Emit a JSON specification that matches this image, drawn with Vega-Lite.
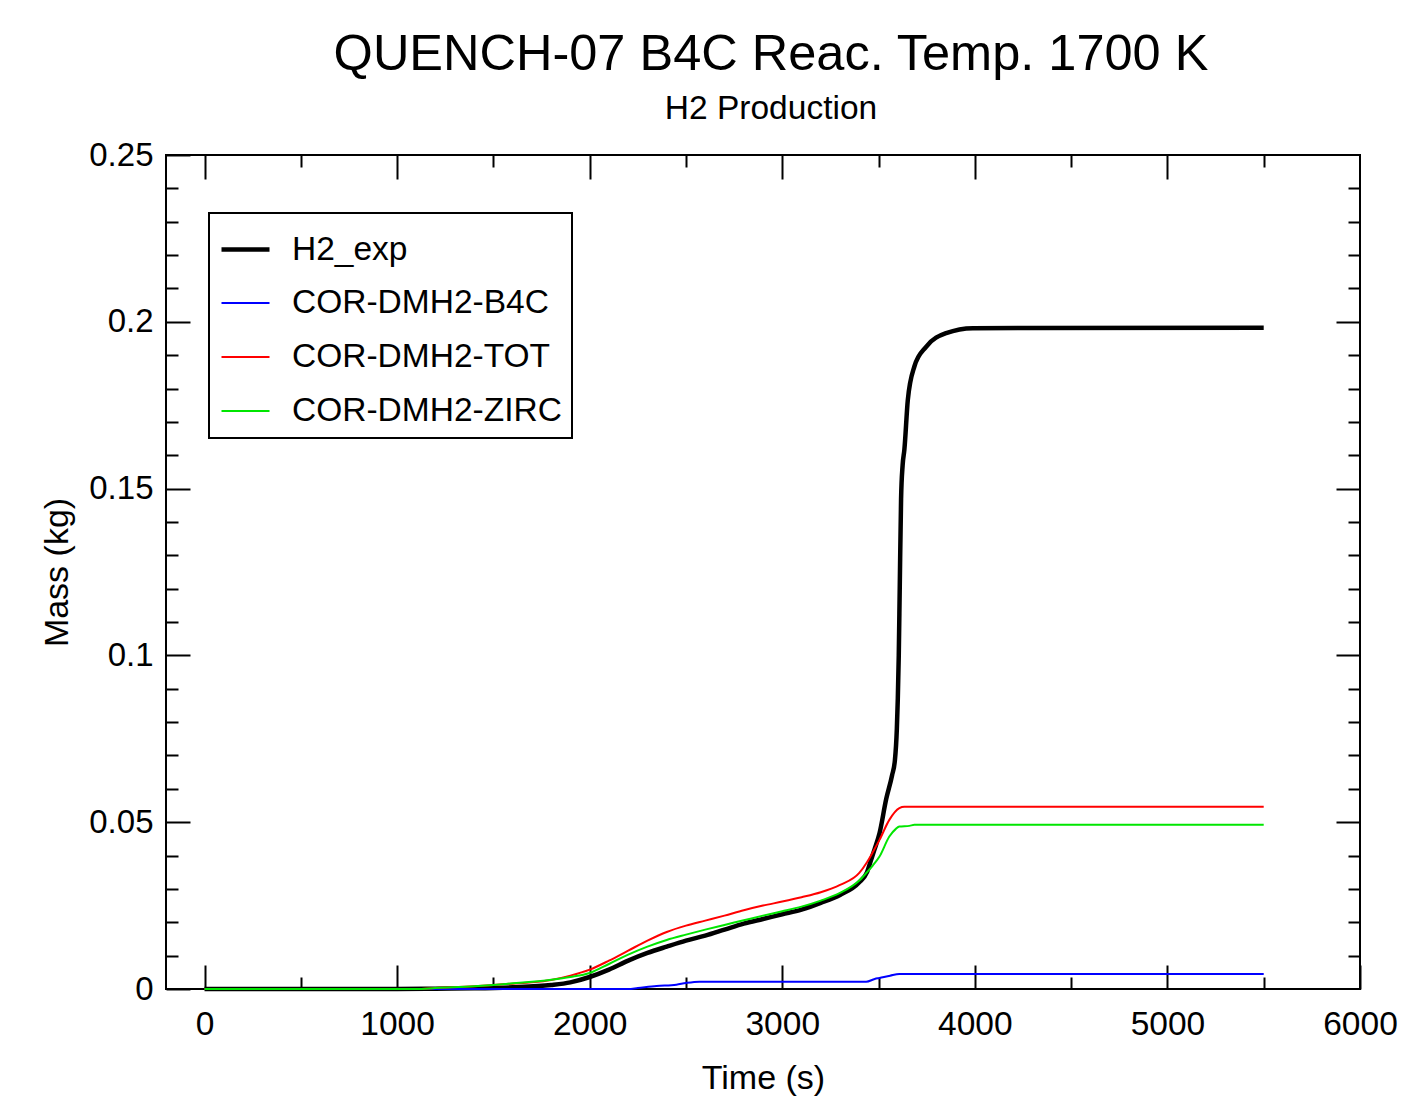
{
  "$schema": "https://vega.github.io/schema/vega-lite/v6.json",
  "autosize": {"type": "none"},
  "width": 1194,
  "height": 834,
  "padding": {"left": 166, "top": 155, "right": 44, "bottom": 130},
  "background": "white",
  "title": {
    "text": "QUENCH-07 B4C Reac. Temp. 1700 K",
    "subtitle": "H2 Production",
    "fontSize": 50.5,
    "subtitleFontSize": 33.5,
    "fontWeight": "normal",
    "subtitleFontWeight": "normal",
    "color": "black",
    "subtitleColor": "black",
    "anchor": "middle",
    "frame": "group",
    "dx": 8,
    "offset": 14,
    "subtitlePadding": 12
  },
  "config": {
    "font": "Liberation Sans",
    "view": {"stroke": "black", "strokeWidth": 2},
    "legend": {
      "symbolType": "stroke",
      "symbolSize": 2304,
      "symbolStrokeWidth": 2,
      "labelFontSize": 33.5,
      "labelColor": "black",
      "labelOffset": 20,
      "rowPadding": 12,
      "padding": 10,
      "strokeColor": "black",
      "strokeWidth": 2,
      "fillColor": "white",
      "labelLimit": 400
    }
  },
  "data": {
    "values": [
      {"series": "H2_exp", "t": 0, "v": 0},
      {"series": "H2_exp", "t": 500, "v": 0},
      {"series": "H2_exp", "t": 1000, "v": 0},
      {"series": "H2_exp", "t": 1200, "v": 0.0001},
      {"series": "H2_exp", "t": 1400, "v": 0.0002},
      {"series": "H2_exp", "t": 1600, "v": 0.0005},
      {"series": "H2_exp", "t": 1800, "v": 0.0012},
      {"series": "H2_exp", "t": 1900, "v": 0.002},
      {"series": "H2_exp", "t": 2000, "v": 0.0036},
      {"series": "H2_exp", "t": 2100, "v": 0.0058},
      {"series": "H2_exp", "t": 2200, "v": 0.0085},
      {"series": "H2_exp", "t": 2300, "v": 0.0108},
      {"series": "H2_exp", "t": 2400, "v": 0.0127},
      {"series": "H2_exp", "t": 2500, "v": 0.0145},
      {"series": "H2_exp", "t": 2600, "v": 0.016},
      {"series": "H2_exp", "t": 2700, "v": 0.0178},
      {"series": "H2_exp", "t": 2800, "v": 0.0196},
      {"series": "H2_exp", "t": 2900, "v": 0.021},
      {"series": "H2_exp", "t": 3000, "v": 0.0224},
      {"series": "H2_exp", "t": 3100, "v": 0.0238},
      {"series": "H2_exp", "t": 3200, "v": 0.0258},
      {"series": "H2_exp", "t": 3300, "v": 0.0282},
      {"series": "H2_exp", "t": 3400, "v": 0.032},
      {"series": "H2_exp", "t": 3440, "v": 0.035},
      {"series": "H2_exp", "t": 3460, "v": 0.0385},
      {"series": "H2_exp", "t": 3480, "v": 0.042},
      {"series": "H2_exp", "t": 3505, "v": 0.0467},
      {"series": "H2_exp", "t": 3540, "v": 0.057},
      {"series": "H2_exp", "t": 3570, "v": 0.064},
      {"series": "H2_exp", "t": 3585, "v": 0.0686},
      {"series": "H2_exp", "t": 3595, "v": 0.078},
      {"series": "H2_exp", "t": 3600, "v": 0.087},
      {"series": "H2_exp", "t": 3605, "v": 0.1},
      {"series": "H2_exp", "t": 3610, "v": 0.12},
      {"series": "H2_exp", "t": 3617, "v": 0.147},
      {"series": "H2_exp", "t": 3625, "v": 0.157},
      {"series": "H2_exp", "t": 3634, "v": 0.1616},
      {"series": "H2_exp", "t": 3652, "v": 0.1766},
      {"series": "H2_exp", "t": 3686, "v": 0.1866},
      {"series": "H2_exp", "t": 3747, "v": 0.1925},
      {"series": "H2_exp", "t": 3851, "v": 0.1966},
      {"series": "H2_exp", "t": 3990, "v": 0.1981},
      {"series": "H2_exp", "t": 5500, "v": 0.1982},

      {"series": "COR-DMH2-B4C", "t": 0, "v": 0},
      {"series": "COR-DMH2-B4C", "t": 2200, "v": 0},
      {"series": "COR-DMH2-B4C", "t": 2250, "v": 0.0003},
      {"series": "COR-DMH2-B4C", "t": 2347, "v": 0.0009},
      {"series": "COR-DMH2-B4C", "t": 2450, "v": 0.0013},
      {"series": "COR-DMH2-B4C", "t": 2500, "v": 0.0018},
      {"series": "COR-DMH2-B4C", "t": 2570, "v": 0.0022},
      {"series": "COR-DMH2-B4C", "t": 3436, "v": 0.0022},
      {"series": "COR-DMH2-B4C", "t": 3480, "v": 0.003},
      {"series": "COR-DMH2-B4C", "t": 3505, "v": 0.0033},
      {"series": "COR-DMH2-B4C", "t": 3560, "v": 0.004},
      {"series": "COR-DMH2-B4C", "t": 3608, "v": 0.0045},
      {"series": "COR-DMH2-B4C", "t": 5500, "v": 0.0045},

      {"series": "COR-DMH2-TOT", "t": 0, "v": 0},
      {"series": "COR-DMH2-TOT", "t": 1100, "v": 0},
      {"series": "COR-DMH2-TOT", "t": 1200, "v": 0.0003},
      {"series": "COR-DMH2-TOT", "t": 1400, "v": 0.0008},
      {"series": "COR-DMH2-TOT", "t": 1500, "v": 0.0012},
      {"series": "COR-DMH2-TOT", "t": 1600, "v": 0.0016},
      {"series": "COR-DMH2-TOT", "t": 1700, "v": 0.002},
      {"series": "COR-DMH2-TOT", "t": 1800, "v": 0.0027},
      {"series": "COR-DMH2-TOT", "t": 1900, "v": 0.004},
      {"series": "COR-DMH2-TOT", "t": 2000, "v": 0.0058},
      {"series": "COR-DMH2-TOT", "t": 2100, "v": 0.0085},
      {"series": "COR-DMH2-TOT", "t": 2200, "v": 0.0115},
      {"series": "COR-DMH2-TOT", "t": 2300, "v": 0.0145},
      {"series": "COR-DMH2-TOT", "t": 2400, "v": 0.0171},
      {"series": "COR-DMH2-TOT", "t": 2500, "v": 0.019},
      {"series": "COR-DMH2-TOT", "t": 2600, "v": 0.0205},
      {"series": "COR-DMH2-TOT", "t": 2700, "v": 0.022},
      {"series": "COR-DMH2-TOT", "t": 2800, "v": 0.0236},
      {"series": "COR-DMH2-TOT", "t": 2900, "v": 0.025},
      {"series": "COR-DMH2-TOT", "t": 3000, "v": 0.0262},
      {"series": "COR-DMH2-TOT", "t": 3100, "v": 0.0275},
      {"series": "COR-DMH2-TOT", "t": 3200, "v": 0.029},
      {"series": "COR-DMH2-TOT", "t": 3300, "v": 0.0312},
      {"series": "COR-DMH2-TOT", "t": 3400, "v": 0.0348},
      {"series": "COR-DMH2-TOT", "t": 3440, "v": 0.038},
      {"series": "COR-DMH2-TOT", "t": 3470, "v": 0.041},
      {"series": "COR-DMH2-TOT", "t": 3505, "v": 0.0447},
      {"series": "COR-DMH2-TOT", "t": 3556, "v": 0.0507},
      {"series": "COR-DMH2-TOT", "t": 3608, "v": 0.0542},
      {"series": "COR-DMH2-TOT", "t": 3634, "v": 0.0546},
      {"series": "COR-DMH2-TOT", "t": 5500, "v": 0.0546},

      {"series": "COR-DMH2-ZIRC", "t": 0, "v": 0},
      {"series": "COR-DMH2-ZIRC", "t": 1100, "v": 0},
      {"series": "COR-DMH2-ZIRC", "t": 1200, "v": 0.0003},
      {"series": "COR-DMH2-ZIRC", "t": 1400, "v": 0.0008},
      {"series": "COR-DMH2-ZIRC", "t": 1500, "v": 0.0012},
      {"series": "COR-DMH2-ZIRC", "t": 1600, "v": 0.0017},
      {"series": "COR-DMH2-ZIRC", "t": 1700, "v": 0.0022},
      {"series": "COR-DMH2-ZIRC", "t": 1800, "v": 0.0028},
      {"series": "COR-DMH2-ZIRC", "t": 1900, "v": 0.0036},
      {"series": "COR-DMH2-ZIRC", "t": 2000, "v": 0.0048},
      {"series": "COR-DMH2-ZIRC", "t": 2100, "v": 0.0075},
      {"series": "COR-DMH2-ZIRC", "t": 2200, "v": 0.0103},
      {"series": "COR-DMH2-ZIRC", "t": 2300, "v": 0.0127},
      {"series": "COR-DMH2-ZIRC", "t": 2400, "v": 0.0147},
      {"series": "COR-DMH2-ZIRC", "t": 2500, "v": 0.0163},
      {"series": "COR-DMH2-ZIRC", "t": 2600, "v": 0.0178},
      {"series": "COR-DMH2-ZIRC", "t": 2700, "v": 0.0192},
      {"series": "COR-DMH2-ZIRC", "t": 2800, "v": 0.0206},
      {"series": "COR-DMH2-ZIRC", "t": 2900, "v": 0.022},
      {"series": "COR-DMH2-ZIRC", "t": 3000, "v": 0.0233},
      {"series": "COR-DMH2-ZIRC", "t": 3100, "v": 0.0247},
      {"series": "COR-DMH2-ZIRC", "t": 3200, "v": 0.0265},
      {"series": "COR-DMH2-ZIRC", "t": 3300, "v": 0.0288},
      {"series": "COR-DMH2-ZIRC", "t": 3400, "v": 0.0325},
      {"series": "COR-DMH2-ZIRC", "t": 3440, "v": 0.035},
      {"series": "COR-DMH2-ZIRC", "t": 3470, "v": 0.037},
      {"series": "COR-DMH2-ZIRC", "t": 3505, "v": 0.0397},
      {"series": "COR-DMH2-ZIRC", "t": 3556, "v": 0.0457},
      {"series": "COR-DMH2-ZIRC", "t": 3590, "v": 0.048},
      {"series": "COR-DMH2-ZIRC", "t": 3608, "v": 0.0487},
      {"series": "COR-DMH2-ZIRC", "t": 3660, "v": 0.0489},
      {"series": "COR-DMH2-ZIRC", "t": 3686, "v": 0.0492},
      {"series": "COR-DMH2-ZIRC", "t": 5500, "v": 0.0492}
    ]
  },
  "resolve": {"axis": {"x": "independent", "y": "independent"}},
  "layer": [
    {
      "mark": {"type": "line", "interpolate": "monotone"},
      "encoding": {
        "x": {
          "field": "t", "type": "quantitative",
          "scale": {"domain": [-200, 6000], "nice": false, "zero": false},
          "axis": {
            "orient": "bottom", "values": [0, 1000, 2000, 3000, 4000, 5000, 6000],
            "format": "d", "domain": false, "grid": false,
            "tickSize": -24, "tickWidth": 2, "tickColor": "black",
            "labelFontSize": 33.5, "labelColor": "black", "labelPadding": 43,
            "labelFlush": false, "labelOverlap": false,
            "title": "Time (s)", "titleFontSize": 34, "titleFontWeight": "normal",
            "titleColor": "black", "titlePadding": 21
          }
        },
        "y": {
          "field": "v", "type": "quantitative",
          "scale": {"domain": [0, 0.25], "nice": false},
          "axis": {
            "orient": "left", "values": [0, 0.05, 0.1, 0.15, 0.2, 0.25],
            "format": "~g", "domain": false, "grid": false,
            "tickSize": -24, "tickWidth": 2, "tickColor": "black",
            "labelFontSize": 33, "labelColor": "black", "labelPadding": 37,
            "labelFlush": false, "labelOverlap": false,
            "title": "Mass (kg)", "titleFontSize": 34, "titleFontWeight": "normal",
            "titleColor": "black", "titlePadding": 14
          }
        },
        "color": {
          "field": "series", "type": "nominal",
          "scale": {
            "domain": ["H2_exp", "COR-DMH2-B4C", "COR-DMH2-TOT", "COR-DMH2-ZIRC"],
            "range": ["#000000", "#0000ff", "#ff0000", "#00e600"]
          },
          "legend": {"title": null, "orient": "none", "legendX": 43, "legendY": 58}
        },
        "strokeWidth": {
          "field": "series", "type": "nominal",
          "scale": {
            "type": "ordinal",
            "domain": ["H2_exp", "COR-DMH2-B4C", "COR-DMH2-TOT", "COR-DMH2-ZIRC"],
            "range": [4.5, 2, 2, 2]
          },
          "legend": {"title": null, "orient": "none", "legendX": 43, "legendY": 58}
        }
      }
    },
    {
      "mark": {"type": "line", "opacity": 0},
      "encoding": {
        "x": {
          "field": "t", "type": "quantitative",
          "scale": {"domain": [-200, 6000], "nice": false, "zero": false},
          "axis": {
            "orient": "bottom", "values": [500, 1500, 2500, 3500, 4500, 5500],
            "labels": false, "domain": false, "grid": false, "title": null,
            "tickSize": -12, "tickWidth": 2, "tickColor": "black"
          }
        },
        "y": {
          "field": "v", "type": "quantitative",
          "scale": {"domain": [0, 0.25], "nice": false},
          "axis": {
            "orient": "left", "values": [0.01, 0.02, 0.03, 0.04, 0.06, 0.07, 0.08, 0.09, 0.11, 0.12, 0.13, 0.14, 0.16, 0.17, 0.18, 0.19, 0.21, 0.22, 0.23, 0.24],
            "labels": false, "domain": false, "grid": false, "title": null,
            "tickSize": -12, "tickWidth": 2, "tickColor": "black"
          }
        },
        "detail": {"field": "series", "type": "nominal"}
      }
    },
    {
      "mark": {"type": "line", "opacity": 0},
      "encoding": {
        "x": {
          "field": "t", "type": "quantitative",
          "scale": {"domain": [-200, 6000], "nice": false, "zero": false},
          "axis": {
            "orient": "top", "values": [0, 1000, 2000, 3000, 4000, 5000],
            "labels": false, "domain": false, "grid": false, "title": null,
            "tickSize": -24, "tickWidth": 2, "tickColor": "black"
          }
        },
        "y": {
          "field": "v", "type": "quantitative",
          "scale": {"domain": [0, 0.25], "nice": false},
          "axis": {
            "orient": "right", "values": [0.05, 0.1, 0.15, 0.2],
            "labels": false, "domain": false, "grid": false, "title": null,
            "tickSize": -24, "tickWidth": 2, "tickColor": "black"
          }
        },
        "detail": {"field": "series", "type": "nominal"}
      }
    },
    {
      "mark": {"type": "line", "opacity": 0},
      "encoding": {
        "x": {
          "field": "t", "type": "quantitative",
          "scale": {"domain": [-200, 6000], "nice": false, "zero": false},
          "axis": {
            "orient": "top", "values": [500, 1500, 2500, 3500, 4500, 5500],
            "labels": false, "domain": false, "grid": false, "title": null,
            "tickSize": -12, "tickWidth": 2, "tickColor": "black"
          }
        },
        "y": {
          "field": "v", "type": "quantitative",
          "scale": {"domain": [0, 0.25], "nice": false},
          "axis": {
            "orient": "right", "values": [0.01, 0.02, 0.03, 0.04, 0.06, 0.07, 0.08, 0.09, 0.11, 0.12, 0.13, 0.14, 0.16, 0.17, 0.18, 0.19, 0.21, 0.22, 0.23, 0.24],
            "labels": false, "domain": false, "grid": false, "title": null,
            "tickSize": -12, "tickWidth": 2, "tickColor": "black"
          }
        },
        "detail": {"field": "series", "type": "nominal"}
      }
    }
  ]
}
